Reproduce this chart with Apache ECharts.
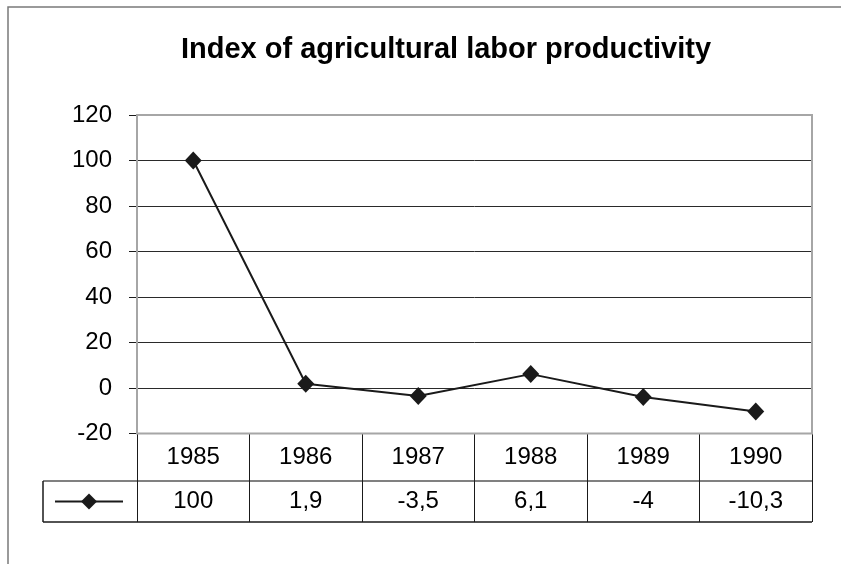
<!DOCTYPE html>
<html>
<head>
<meta charset="utf-8">
<script src="https://cdn.jsdelivr.net/npm/echarts@6/dist/echarts.min.js"></script>
<style>
  html, body { margin: 0; padding: 0; background: #fff; }
  #chart { width: 841px; height: 564px; }
</style>
</head>
<body>
<div id="chart"></div>
<script>
// Series data
const years = ['1985', '1986', '1987', '1988', '1989', '1990'];
const productivity = [100, 1.9, -3.5, 6.1, -4, -10.3];
const yTicks = { min: -20, max: 120, step: 20 };
const titleText = 'Index of agricultural labor productivity';

// Layout (pixels)
const W = 841, H = 564;
const G = { left: 137, right: 812, top: 115, bottom: 433.5 };
const ROW1 = 47.5, ROW2 = 41;           // data-table row heights
const TABLE_LEFT = 43;
const FONT = '"Liberation Sans", Arial, sans-serif';
const LABEL_SIZE = 24;

const rowDivY = G.bottom + ROW1;
const tableBottomY = rowDivY + ROW2;

// Decimal comma, as in the data table
const fmt = v => String(v).replace('.', ',');

const chart = echarts.init(document.getElementById('chart'), null, { renderer: 'canvas' });

chart.setOption({
  animation: false,
  backgroundColor: '#fff',
  textStyle: { fontFamily: FONT, color: '#000' },
  title: {
    text: titleText,
    left: 441,
    top: 30.5,
    textAlign: 'center',
    textStyle: { fontFamily: FONT, fontWeight: 'bold', fontSize: 29, color: '#000' }
  },
  grid: {
    left: G.left,
    right: W - G.right,
    top: G.top,
    bottom: H - G.bottom,
    show: true,
    z: 1,
    backgroundColor: 'transparent',
    borderColor: '#a6a6a6',
    borderWidth: 2
  },
  legend: {
    left: TABLE_LEFT + 6,
    top: rowDivY + ROW2 / 2 - 15,
    itemWidth: 68,
    itemHeight: 20,
    formatter: () => '',
    selectedMode: false,
    data: ['Index']
  },
  xAxis: {
    type: 'category',
    data: years,
    boundaryGap: true,
    axisLine: { show: false, onZero: false },
    axisTick: {
      show: true,
      length: ROW1 + ROW2,
      lineStyle: { color: '#1a1a1a', width: 1 }
    },
    axisLabel: {
      margin: 0,
      interval: 0,
      formatter: (val, idx) => `{cat|${val}}\n{val|${fmt(productivity[idx])}}`,
      rich: {
        cat: { fontFamily: FONT, fontSize: LABEL_SIZE, lineHeight: ROW1, color: '#000' },
        val: { fontFamily: FONT, fontSize: LABEL_SIZE, lineHeight: ROW2, color: '#000' }
      }
    },
    splitLine: { show: false }
  },
  yAxis: {
    type: 'value',
    min: yTicks.min,
    max: yTicks.max,
    interval: yTicks.step,
    axisLine: { show: false },
    axisTick: { show: true, length: 8, lineStyle: { color: '#1a1a1a', width: 1 } },
    axisLabel: { margin: 25, fontFamily: FONT, fontSize: LABEL_SIZE, color: '#000' },
    splitLine: { show: true, lineStyle: { color: '#2a2a2a', width: 1 } }
  },
  series: [{
    name: 'Index',
    type: 'line',
    data: productivity,
    symbol: 'diamond',
    symbolSize: [17, 18],
    lineStyle: { color: '#1a1a1a', width: 2 },
    itemStyle: { color: '#1a1a1a' },
    z: 3
  }],
  graphic: [
    // outer chart frame
    { type: 'rect', shape: { x: 8, y: 7, width: 900, height: 600 },
      style: { fill: 'none', stroke: '#7a7a7a', lineWidth: 1.5 }, silent: true },
    // data table: row divider, bottom edge, left edge of legend cell
    { type: 'line', shape: { x1: TABLE_LEFT, y1: rowDivY, x2: G.right, y2: rowDivY },
      style: { stroke: '#808080', lineWidth: 2 }, silent: true },
    { type: 'line', shape: { x1: TABLE_LEFT, y1: tableBottomY, x2: G.right, y2: tableBottomY },
      style: { stroke: '#1a1a1a', lineWidth: 1.5 }, silent: true },
    { type: 'line', shape: { x1: TABLE_LEFT, y1: rowDivY, x2: TABLE_LEFT, y2: tableBottomY },
      style: { stroke: '#1a1a1a', lineWidth: 1.5 }, silent: true }
  ]
});
</script>
</body>
</html>
